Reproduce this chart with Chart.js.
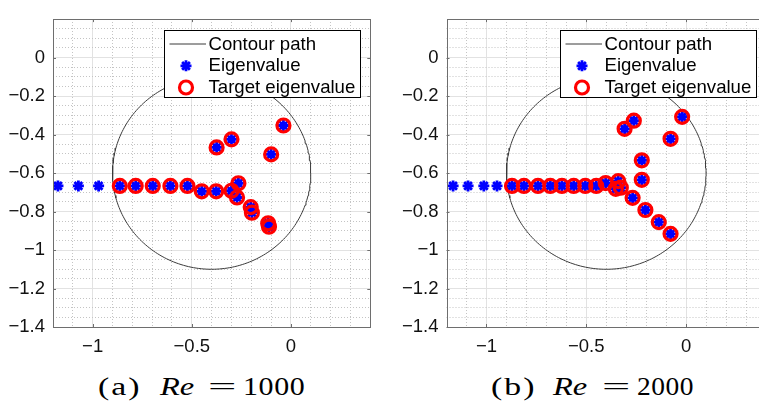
<!DOCTYPE html>
<html><head><meta charset="utf-8">
<script src="https://cdn.jsdelivr.net/npm/chart.js@4"></script>
<style>
html,body{margin:0;padding:0;background:#fff;width:759px;height:403px;overflow:hidden;position:relative}
canvas{position:absolute;top:0}
.cap{position:absolute;font-family:'Liberation Serif','Times New Roman',serif;font-size:25px;line-height:25px;white-space:nowrap;color:#000;transform-origin:0 0}
</style></head><body>
<canvas id="cA" width="380" height="365" style="left:0;width:380px;height:365px"></canvas>
<canvas id="cB" width="400" height="365" style="left:380px;width:400px;height:365px"></canvas>
<div id="caps"></div>
<script>
// ---------- data ----------
const contourCenterRe = -0.4, contourCenterIm = -0.6, contourRadius = 0.5;

// (a) Re = 1000
const eigA_re = [-1.175,-1.072,-0.970,-0.863,-0.783,-0.697,-0.608,-0.522,-0.450,-0.377,-0.300,-0.265,-0.272,-0.203,-0.197,-0.115,-0.111,-0.375,-0.300,-0.038,-0.100];
const eigA_im = [-0.667,-0.667,-0.667,-0.667,-0.667,-0.667,-0.667,-0.667,-0.695,-0.695,-0.692,-0.653,-0.727,-0.777,-0.806,-0.861,-0.879,-0.467,-0.425,-0.353,-0.503];
const tgtA_re = [-0.863,-0.783,-0.697,-0.608,-0.522,-0.450,-0.377,-0.300,-0.265,-0.272,-0.203,-0.197,-0.115,-0.111,-0.375,-0.300,-0.038,-0.100];
const tgtA_im = [-0.667,-0.667,-0.667,-0.667,-0.667,-0.695,-0.695,-0.692,-0.653,-0.727,-0.777,-0.806,-0.861,-0.879,-0.467,-0.425,-0.353,-0.503];

// (b) Re = 2000
const eigB_re = [-1.167,-1.092,-1.013,-0.947,-0.872,-0.812,-0.742,-0.680,-0.622,-0.563,-0.505,-0.450,-0.403,-0.340,-0.352,-0.327,-0.268,-0.222,-0.222,-0.308,-0.262,-0.020,-0.078,-0.204,-0.137,-0.078];
const eigB_im = [-0.667,-0.667,-0.667,-0.667,-0.667,-0.667,-0.667,-0.667,-0.667,-0.667,-0.667,-0.667,-0.652,-0.642,-0.682,-0.676,-0.729,-0.635,-0.534,-0.370,-0.328,-0.308,-0.422,-0.792,-0.855,-0.916];
const tgtB_re = [-0.872,-0.812,-0.742,-0.680,-0.622,-0.563,-0.505,-0.450,-0.403,-0.340,-0.352,-0.327,-0.268,-0.222,-0.222,-0.308,-0.262,-0.020,-0.078,-0.204,-0.137,-0.078];
const tgtB_im = [-0.667,-0.667,-0.667,-0.667,-0.667,-0.667,-0.667,-0.667,-0.652,-0.642,-0.682,-0.676,-0.729,-0.635,-0.534,-0.370,-0.328,-0.308,-0.422,-0.792,-0.855,-0.916];

// axes
const xRange = [-1.2, 0.4], yRange = [-1.4, 0.2];
const xTickVals = [-1, -0.5, 0];
const xTickLabels = ['\u22121', '\u22120.5', '0'];
const yTickVals = [-1.4, -1.2, -1, -0.8, -0.6, -0.4, -0.2, 0];
const yTickLabels = ['\u22121.4', '\u22121.2', '\u22121', '\u22120.8', '\u22120.6', '\u22120.4', '\u22120.2', '0'];
const xMinorVals = [-1.1, -0.9, -0.8, -0.7, -0.6, -0.4, -0.3, -0.2, -0.1, 0.1, 0.2, 0.3];
const yMinorVals = [-1.35, -1.3, -1.25, -1.15, -1.1, -1.05, -0.95, -0.9, -0.85, -0.75, -0.7, -0.65, -0.55, -0.5, -0.45, -0.35, -0.3, -0.25, -0.15, -0.1, -0.05, 0.05, 0.1, 0.15];

const seriesLabels = ['Contour path', 'Eigenvalue', 'Target eigenvalue'];
const captionsA = ['(a)', 'Re', '=', '1000'];
const captionsB = ['(b)', 'Re', '=', '2000'];

// ---------- drawing ----------
const TICK_FONT = {family: "'Liberation Sans', Arial, sans-serif", size: 18.5};
const FRAME = '#6e6e6e';

function toPts(re, im) { return re.map((r, i) => ({x: r, y: im[i]})); }
function contourPts() {
  const pts = [];
  for (let k = 0; k <= 240; k++) {
    const t = 2 * Math.PI * k / 240;
    pts.push({x: contourCenterRe + contourRadius * Math.cos(t), y: contourCenterIm + contourRadius * Math.sin(t)});
  }
  return pts;
}

function drawStar(ctx, x, y, r) {
  ctx.beginPath();
  for (let k = 0; k < 4; k++) {
    const a = k * Math.PI / 4;
    ctx.moveTo(x + r * Math.cos(a), y + r * Math.sin(a));
    ctx.lineTo(x - r * Math.cos(a), y - r * Math.sin(a));
  }
  ctx.stroke();
}

const framePlugin = {
  id: 'frameLegend',
  afterDraw(chart) {
    const ctx = chart.ctx, a = chart.chartArea;
    const sx = chart.scales.x, sy = chart.scales.y;
    ctx.save();
    // inward tick marks
    ctx.strokeStyle = FRAME; ctx.lineWidth = 1;
    ctx.beginPath();
    xTickVals.forEach(v => {
      const px = Math.round(sx.getPixelForValue(v)) + 0.5;
      ctx.moveTo(px, a.bottom); ctx.lineTo(px, a.bottom - 3);
      ctx.moveTo(px, a.top); ctx.lineTo(px, a.top + 3);
    });
    yTickVals.forEach(v => {
      const py = Math.round(sy.getPixelForValue(v)) + 0.5;
      ctx.moveTo(a.left, py); ctx.lineTo(a.left + 3, py);
      ctx.moveTo(a.right, py); ctx.lineTo(a.right - 3, py);
    });
    ctx.stroke();
    // frame
    ctx.strokeStyle = FRAME;
    ctx.strokeRect(Math.round(a.left) + 0.5, Math.round(a.top) + 0.5, Math.round(a.right - a.left), Math.round(a.bottom - a.top));
    // legend box
    const bw = 196, bh = 67;
    const bx = Math.round(a.right - 10 - bw) + 0.5, by = Math.round(a.top + 11) + 0.5;
    ctx.fillStyle = '#fff';
    ctx.fillRect(bx, by, bw, bh);
    ctx.strokeStyle = '#000';
    ctx.strokeRect(bx, by, bw, bh);
    const rows = [13.5, 35.3, 57];
    const ds = chart.data.datasets;
    // contour line sample
    ctx.strokeStyle = ds[0].borderColor; ctx.lineWidth = 1;
    ctx.beginPath(); ctx.moveTo(bx + 5, by + rows[0]); ctx.lineTo(bx + 41.5, by + rows[0]); ctx.stroke();
    // eigenvalue star
    ctx.strokeStyle = ds[1].borderColor; ctx.lineWidth = ds[1].borderWidth;
    drawStar(ctx, bx + 21.5, by + rows[1], ds[1].pointRadius);
    // target circle
    ctx.strokeStyle = ds[2].borderColor; ctx.lineWidth = ds[2].borderWidth;
    ctx.beginPath(); ctx.arc(bx + 21.5, by + rows[2], ds[2].pointRadius, 0, 2 * Math.PI); ctx.stroke();
    // texts
    ctx.fillStyle = '#000';
    ctx.font = "18.6px 'Liberation Sans', Arial, sans-serif";
    ctx.textBaseline = 'middle'; ctx.textAlign = 'left';
    ds.forEach((d, i) => ctx.fillText(d.label, bx + 44, by + rows[i] + 0.5));
    ctx.restore();
  }
};

function makeChart(id, W, H, areaLeft, areaRight, eigRe, eigIm, tgtRe, tgtIm) {
  const areaTop = 8, areaBottom = 327;
  return new Chart(document.getElementById(id), {
    type: 'scatter',
    data: {
      datasets: [
        {label: seriesLabels[0], data: contourPts(), showLine: true, pointRadius: 0, borderColor: '#3a3a3a', borderWidth: 1, fill: false, order: 3},
        {label: seriesLabels[1], data: toPts(eigRe, eigIm), pointStyle: 'star', pointRadius: 5.5, borderColor: '#0000ff', backgroundColor: '#0000ff', borderWidth: 2.8, order: 2},
        {label: seriesLabels[2], data: toPts(tgtRe, tgtIm), pointStyle: 'circle', pointRadius: 6.5, borderColor: '#ff0000', backgroundColor: 'rgba(0,0,0,0)', borderWidth: 3.2, order: 1}
      ]
    },
    options: {
      responsive: false, animation: false, devicePixelRatio: 1, events: [],
      layout: {padding: 0},
      plugins: {legend: {display: false}, tooltip: {enabled: false}, title: {display: false}},
      scales: {
        x: {
          type: 'linear', position: 'bottom', min: xRange[0], max: xRange[1],
          afterBuildTicks: s => { s.ticks = xTickVals.map(v => ({value: v})); },
          afterFit: s => { s.height = H - areaBottom; },
          ticks: {font: TICK_FONT, color: '#111', padding: 9, maxRotation: 0, autoSkip: false, callback: (v, i) => xTickLabels[i]},
          grid: {color: '#e2e2e2', lineWidth: 1, drawTicks: false},
          border: {display: false}
        },
        y: {
          type: 'linear', position: 'left', min: yRange[0], max: yRange[1],
          afterBuildTicks: s => { s.ticks = yTickVals.map(v => ({value: v})); },
          afterFit: s => { s.width = areaLeft; },
          ticks: {font: TICK_FONT, color: '#111', padding: 8, autoSkip: false, callback: (v, i) => yTickLabels[i]},
          grid: {color: '#e2e2e2', lineWidth: 1, drawTicks: false},
          border: {display: false}
        },
        x2: {
          type: 'linear', position: 'top', min: xRange[0], max: xRange[1],
          afterBuildTicks: s => { s.ticks = xMinorVals.map(v => ({value: v})); },
          afterFit: s => { s.height = areaTop; },
          ticks: {display: false},
          grid: {color: '#c4c4c4', lineWidth: 1, drawTicks: false},
          border: {display: false, dash: [1, 2]}
        },
        y2: {
          type: 'linear', position: 'right', min: yRange[0], max: yRange[1],
          afterBuildTicks: s => { s.ticks = yMinorVals.map(v => ({value: v})); },
          afterFit: s => { s.width = W - areaRight; },
          ticks: {display: false},
          grid: {color: '#c4c4c4', lineWidth: 1, drawTicks: false},
          border: {display: false, dash: [1, 2]}
        }
      }
    },
    plugins: [framePlugin]
  });
}

makeChart('cA', 380, 365, 53, 372.5, eigA_re, eigA_im, tgtA_re, tgtA_im);
makeChart('cB', 400, 365, 66.5, 386, eigB_re, eigB_im, tgtB_re, tgtB_im);

// ---------- captions (real text) ----------
// each piece: [left, width, letterSpacing, maxScale]
function caption(parts, boxes) {
  const host = document.getElementById('caps');
  parts.forEach((t, i) => {
    const [left, target, ls, maxScale] = boxes[i];
    const s = document.createElement('span');
    s.className = 'cap';
    s.textContent = t;
    if (t === 'Re') s.style.fontStyle = 'italic';
    s.style.top = '373.5px';
    s.style.letterSpacing = ls + 'px';
    host.appendChild(s);
    const w = s.getBoundingClientRect().width - ls;
    const sc = Math.min(target / w, maxScale);
    s.style.left = (left + (target - w * sc) / 2).toFixed(2) + 'px';
    s.style.transform = 'scaleX(' + sc.toFixed(3) + ')';
  });
}
caption(captionsA, [[96.7, 43.3, 1.5, 1.35], [155, 43.3, 0, 1.3], [208.3, 28.4, 0, 2.2], [243.3, 61.7, 0.5, 1.3]]);
caption(captionsB, [[490, 45, 1.5, 1.35], [548.3, 43.4, 0, 1.3], [601.7, 28.3, 0, 2.2], [636.7, 56.6, 0.5, 1.3]]);
</script>
</body></html>
